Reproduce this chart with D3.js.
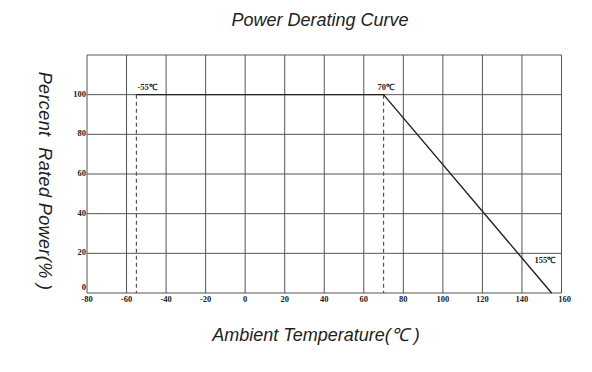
<!DOCTYPE html>
<meta charset="utf-8">

<style>
body { margin: 0; background: #fff; }
svg.chart { background: #fff; }
svg.chart .grid line { stroke: #555; stroke-width: 1; }
svg.chart .tick-label { font: bold 8.5px "Liberation Serif", serif; fill: #222; }
svg.chart .title { font: italic 18px "Liberation Sans", Arial, sans-serif; fill: #222; text-anchor: middle; }
svg.chart .curve { fill: none; stroke: #222; stroke-width: 1.4; }
svg.chart .guide { stroke: #555; stroke-width: 1.2; stroke-dasharray: 4 3; }
svg.chart .mark { font: bold 8.5px "Liberation Serif", serif; fill: #222; }
</style>

<svg class="chart" width="592" height="372"></svg>

<script src="https://d3js.org/d3.v7.min.js"></script>
<script>

// data
var xTicks = [-80, -60, -40, -20, 0, 20, 40, 60, 80, 100, 120, 140, 160];
var yTicks = [0, 20, 40, 60, 80, 100, 120];
var yTickLabels = ["0", "20", "40", "60", "80", "100", ""];
var curveTemps = [-55, 70, 155];
var curvePower = [100, 100, 0];
var markTemps = [-55, 70, 155];
var markLabels = ["-55℃", "70℃", "155℃"];

var svg = d3.select("svg.chart");

var x = d3.scaleLinear().domain([-80, 160]).range([87, 561.5]);
var y = d3.scaleLinear().domain([0, 120]).range([293, 55]);

// grid
var grid = svg.append("g").attr("class", "grid");
grid.selectAll("line.v")
  .data(xTicks)
  .enter().append("line")
    .attr("x1", function(d) { return x(d); })
    .attr("x2", function(d) { return x(d); })
    .attr("y1", y(0))
    .attr("y2", y(120));
grid.selectAll("line.h")
  .data(yTicks)
  .enter().append("line")
    .attr("x1", x(-80))
    .attr("x2", x(160))
    .attr("y1", function(d) { return y(d); })
    .attr("y2", function(d) { return y(d); });

// tick labels
svg.append("g").selectAll("text")
  .data(xTicks)
  .enter().append("text")
    .attr("class", "tick-label")
    .attr("x", function(d) { return x(d) + (d === 160 ? 3 : 0); })
    .attr("y", y(0) + 9)
    .attr("text-anchor", "middle")
    .text(function(d) { return d; });

svg.append("g").selectAll("text")
  .data(yTicks)
  .enter().append("text")
    .attr("class", "tick-label")
    .attr("x", x(-80) - 1)
    .attr("y", function(d) { return d === 0 ? y(d) - 3 : y(d) + 2; })
    .attr("text-anchor", "end")
    .text(function(d, i) { return yTickLabels[i]; });

// dashed guides
svg.append("g").selectAll("line")
  .data(curveTemps.slice(0, 2))
  .enter().append("line")
    .attr("class", "guide")
    .attr("x1", function(d) { return x(d); })
    .attr("x2", function(d) { return x(d); })
    .attr("y1", y(100))
    .attr("y2", y(0));

// curve
var line = d3.line()
  .x(function(d) { return x(d[0]); })
  .y(function(d) { return y(d[1]); });

svg.append("path")
  .attr("class", "curve")
  .attr("d", line(d3.zip(curveTemps, curvePower)));

// markers
var markOffsets = [[1, -5], [-6, -5], [-17, -30]];
svg.append("g").selectAll("text")
  .data(markTemps)
  .enter().append("text")
    .attr("class", "mark")
    .attr("x", function(d, i) { return x(d) + markOffsets[i][0]; })
    .attr("y", function(d, i) { return y(curvePower[i]) + markOffsets[i][1]; })
    .text(function(d, i) { return markLabels[i]; });

// titles
svg.append("text")
  .attr("class", "title")
  .attr("x", 320)
  .attr("y", 26)
  .text("Power Derating Curve");

svg.append("text")
  .attr("class", "title")
  .attr("x", 316)
  .attr("y", 341)
  .text("Ambient Temperature(℃\u00a0)");

svg.append("text")
  .attr("class", "title")
  .attr("transform", "translate(39,181) rotate(90)")
  .style("letter-spacing", "0.4px")
  .text("Percent\u00a0\u00a0Rated Power(%\u00a0)");

</script>
